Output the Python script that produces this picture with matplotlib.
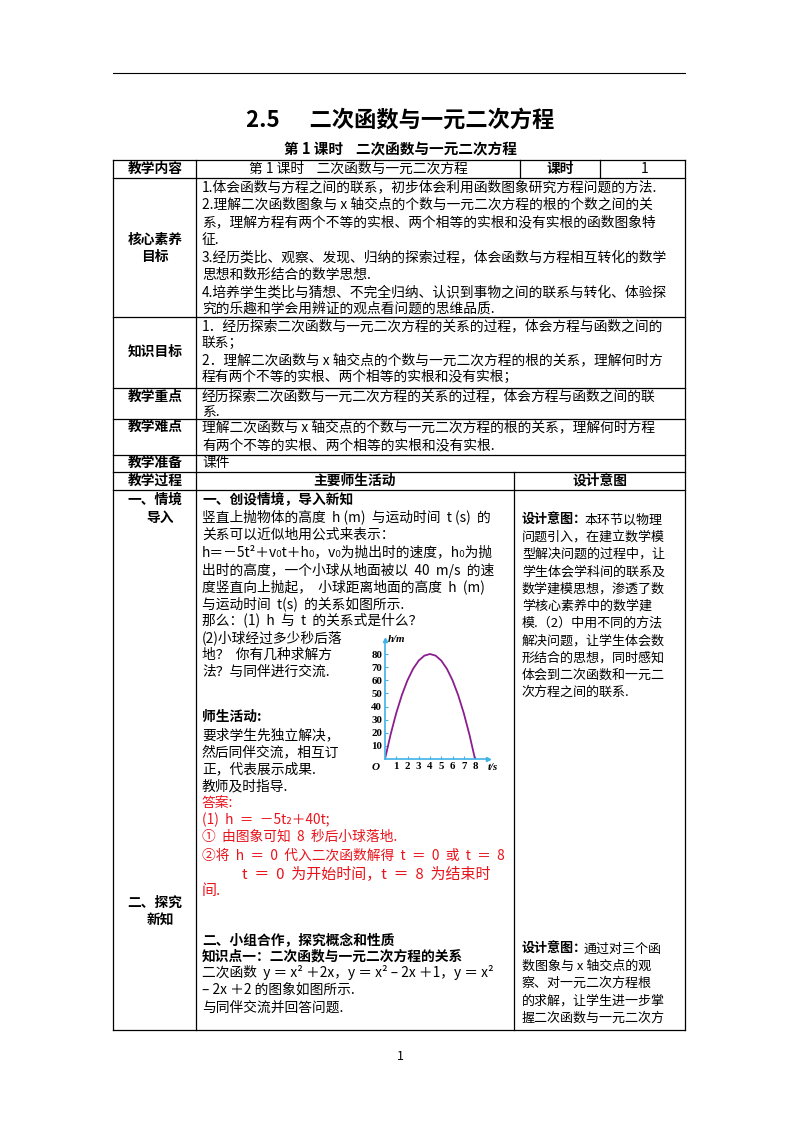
import matplotlib
matplotlib.use("Agg")
import matplotlib.pyplot as plt

plt.rcParams['font.family'] = ['Noto Sans CJK SC', 'DejaVu Sans']

# parabola data (t in s, h in m)
t_vals = [0, 0.5, 1, 1.5, 2, 2.5, 3, 3.5, 4, 4.5, 5, 5.5, 6, 6.5, 7, 7.5, 8]
h_vals = [0, 18.75, 35, 48.75, 60, 68.75, 75, 78.75, 80, 78.75, 75, 68.75, 60, 48.75, 35, 18.75, 0]
x_ticks = [1, 2, 3, 4, 5, 6, 7, 8]
y_ticks = [10, 20, 30, 40, 50, 60, 70, 80]

W, H = 800, 1132
fig = plt.figure(figsize=(W/100, H/100), dpi=100)
ax = fig.add_axes([0, 0, 1, 1])
ax.set_xlim(0, W); ax.set_ylim(H, 0); ax.axis('off')

FS = 9.9
SFS = 9.4
def T(x, y, s, size=FS, bold=False, color='black', ha='left'):
    ax.text(x, y, s, fontsize=size, fontweight='bold' if bold else 'normal',
            color=color, ha=ha, va='center')

def L(x1, y1, x2, y2, lw=0.9):
    ax.plot([x1, x2], [y1, y2], color='black', lw=lw)

L(113, 73, 685, 73, 0.8)
T(400, 120, "2.5      二次函数与一元二次方程", size=16, bold=True, ha='center')
T(400, 149, "第 1 课时    二次函数与一元二次方程", size=10.5, bold=True, ha='center')

Lx, C1, C2, Rx = 113, 196, 514, 685
rows = [160, 178, 317, 388, 419, 455, 472, 490]
for y in rows:
    L(Lx, y, Rx, y)
L(Lx, 1030, Rx, 1030)
L(Lx, 160, Lx, 1030); L(Rx, 160, Rx, 1030); L(C1, 160, C1, 1030)
L(520, 160, 520, 178); L(600, 160, 600, 178)
L(C2, 472, C2, 1030)

T(155, 169, "教学内容", bold=True, ha='center')
T(358, 169, "第 1 课时    二次函数与一元二次方程", ha='center')
T(560, 169, "课时", bold=True, ha='center')
T(645, 169, "1", ha='center')

T(155, 240, "核心素养", bold=True, ha='center')
T(155, 257, "目标", bold=True, ha='center')
x0 = 202
lines = [(187, "1.体会函数与方程之间的联系，初步体会利用函数图象研究方程问题的方法."),
         (205, "2.理解二次函数图象与 x 轴交点的个数与一元二次方程的根的个数之间的关"),
         (222, "系，理解方程有两个不等的实根、两个相等的实根和没有实根的函数图象特"),
         (240, "征."),
         (257, "3.经历类比、观察、发现、归纳的探索过程，体会函数与方程相互转化的数学"),
         (275, "思想和数形结合的数学思想."),
         (292, "4.培养学生类比与猜想、不完全归纳、认识到事物之间的联系与转化、体验探"),
         (309, "究的乐趣和学会用辨证的观点看问题的思维品质.")]
for y, s in lines: T(x0, y, s)

T(155, 352, "知识目标", bold=True, ha='center')
for y, s in [(326, "1．经历探索二次函数与一元二次方程的关系的过程，体会方程与函数之间的"),
             (343, "联系；"),
             (360, "2．理解二次函数与 x 轴交点的个数与一元二次方程的根的关系，理解何时方"),
             (377, "程有两个不等的实根、两个相等的实根和没有实根；")]:
    T(x0, y, s)

T(155, 397, "教学重点", bold=True, ha='center')
T(x0, 396, "经历探索二次函数与一元二次方程的关系的过程，体会方程与函数之间的联")
T(x0, 412, "系.")
T(155, 427, "教学难点", bold=True, ha='center')
T(x0, 427, "理解二次函数与 x 轴交点的个数与一元二次方程的根的关系，理解何时方程")
T(x0, 445, "有两个不等的实根、两个相等的实根和没有实根.")
T(155, 463, "教学准备", bold=True, ha='center')
T(x0, 463, "课件")
T(155, 481, "教学过程", bold=True, ha='center')
T(355, 481, "主要师生活动", bold=True, ha='center')
T(600, 481, "设计意图", bold=True, ha='center')

T(155, 500, "一、情境", bold=True, ha='center')
T(160, 518, "导入", bold=True, ha='center')
T(155, 903, "二、探究", bold=True, ha='center')
T(160, 920, "新知", bold=True, ha='center')

red = '#e8141c'
main = [(500, "一、创设情境，导入新知", True, 'black'),
        (517, "竖直上抛物体的高度  h (m)  与运动时间  t (s)  的", False, 'black'),
        (535, "关系可以近似地用公式来表示：", False, 'black'),
        (552, "h＝－5t²＋v₀t＋h₀，v₀为抛出时的速度，h₀为抛", False, 'black'),
        (570, "出时的高度，一个小球从地面被以  40  m/s  的速", False, 'black'),
        (587, "度竖直向上抛起，  小球距离地面的高度  h  (m)", False, 'black'),
        (604, "与运动时间  t(s)  的关系如图所示.", False, 'black'),
        (620, "那么：(1)  h  与  t  的关系式是什么？", False, 'black'),
        (638, "(2)小球经过多少秒后落", False, 'black'),
        (655, "地？  你有几种求解方", False, 'black'),
        (672, "法？与同伴进行交流.", False, 'black'),
        (717, "师生活动:", True, 'black'),
        (735, "要求学生先独立解决，", False, 'black'),
        (752, "然后同伴交流，相互订", False, 'black'),
        (769, "正，代表展示成果.", False, 'black'),
        (786, "教师及时指导.", False, 'black'),
        (803, "答案:", False, red),
        (820, "(1)  h  ＝  －5t₂＋40t;", False, red),
        (837, "①  由图象可知  8  秒后小球落地.", False, red),
        (856, "②将  h  ＝  0  代入二次函数解得  t  ＝  0  或  t  ＝  8", False, red),
        (940, "二、小组合作，探究概念和性质", True, 'black'),
        (956, "知识点一：二次函数与一元二次方程的关系", True, 'black'),
        (973, "二次函数  y ＝ x² ＋2x，y ＝ x² – 2x ＋1，y ＝ x²", False, 'black'),
        (990, "– 2x ＋2 的图象如图所示.", False, 'black'),
        (1008, "与同伴交流并回答问题.", False, 'black')]
for y, s, b, c in main:
    T(x0, y, s, bold=b, color=c)
T(242, 874, "t  ＝  0  为开始时间，t  ＝  8  为结束时", size=10.8, color=red)
T(x0, 891, "间.", size=10.8, color=red)

x3 = 522
side1 = ["问题引入，在建立数学模", "型解决问题的过程中，让", "学生体会学科间的联系及",
         "数学建模思想，渗透了数", "学核心素养中的数学建", "模.（2）中用不同的方法",
         "解决问题，让学生体会数", "形结合的思想，同时感知", "体会到二次函数和一元二", "次方程之间的联系."]
ax.text(x3, 520, "设计意图：", fontsize=SFS, fontweight='bold', va='center')
T(x3 + 62, 520, "本环节以物理", size=SFS)
for i, s in enumerate(side1):
    T(x3, 537 + i * 17.3, s, size=SFS)
ax.text(x3, 949, "设计意图：", fontsize=SFS, fontweight='bold', va='center')
T(x3 + 62, 949, "通过对三个函", size=SFS)
for i, s in enumerate(["数图象与 x 轴交点的观", "察、对一元二次方程根", "的求解，让学生进一步掌", "握二次函数与一元二次方"]):
    T(x3, 966 + i * 17.3, s, size=SFS)

T(400, 1057, "1", size=9, ha='center')

x_left, x_right = 385, 488
y_bot, y_top = 759, 640
tx = (475 - 385) / 8.0
hy = (759 - 654) / 80.0
ca = fig.add_axes([x_left / W, 1 - y_bot / H, (x_right - x_left) / W, (y_bot - y_top) / H])
ca.set_xlim(0, (x_right - x_left) / tx)
ca.set_ylim(0, (y_bot - y_top) / hy)
ca.patch.set_alpha(0)
for s in ['top', 'right']:
    ca.spines[s].set_visible(False)
for s in ['left', 'bottom']:
    ca.spines[s].set_color('#3fb3e6'); ca.spines[s].set_linewidth(1.2)
ca.plot(t_vals, h_vals, color='#8b1e8e', lw=1.3)
ca.set_xticks(x_ticks); ca.set_yticks(y_ticks)
ca.set_xticklabels([str(v) for v in x_ticks], fontsize=7.8, fontweight='bold', family='Liberation Serif')
ca.set_yticklabels([str(v) for v in y_ticks], fontsize=7.8, fontweight='bold', family='Liberation Serif')
ca.tick_params(direction='in', length=2.5, color='#3fb3e6', pad=2)
ca.plot(1, 0, '>', color='#3fb3e6', ms=3, transform=ca.transAxes, clip_on=False)
ca.plot(0, 1, '^', color='#3fb3e6', ms=3, transform=ca.transAxes, clip_on=False)
ax.text(388, 640, "h/m", fontsize=7.8, fontweight='bold', style='italic', family='Liberation Serif', va='center')
ax.text(488, 768, "t/s", fontsize=7.8, fontweight='bold', style='italic', family='Liberation Serif', va='center')
ax.text(372, 767, "O", fontsize=8, fontweight='bold', style='italic', family='Liberation Serif', va='center')

fig.savefig("out.png", dpi=100)
